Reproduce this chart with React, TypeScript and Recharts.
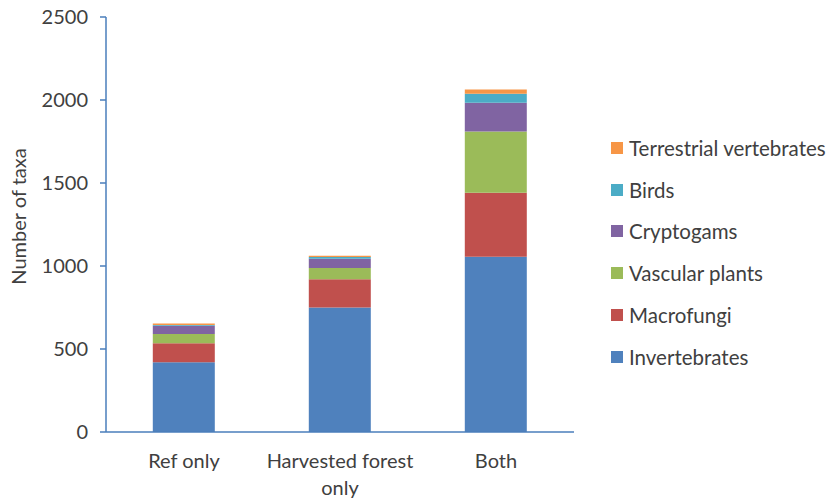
import React from "react";
import { BarChart, Bar, XAxis, YAxis } from "recharts";

const categories = ["Ref only", "Harvested forest only", "Both"];

const invertebrates = [420, 750, 1055];
const macrofungi = [115, 170, 387];
const vascularPlants = [55, 68, 368];
const cryptogams = [50, 56, 173];
const birds = [5, 10, 54];
const terrestrialVertebrates = [8, 8, 26];

const yTicks = [0, 500, 1000, 1500, 2000, 2500];

const series = [
  { key: "invertebrates", name: "Invertebrates", values: invertebrates, color: "#4F81BD" },
  { key: "macrofungi", name: "Macrofungi", values: macrofungi, color: "#C0504D" },
  { key: "vascular", name: "Vascular plants", values: vascularPlants, color: "#9BBB59" },
  { key: "cryptogams", name: "Cryptogams", values: cryptogams, color: "#8064A2" },
  { key: "birds", name: "Birds", values: birds, color: "#4BACC6" },
  { key: "terrestrial", name: "Terrestrial vertebrates", values: terrestrialVertebrates, color: "#F79646" },
];

const data = categories.map((cat, i) => {
  const row: Record<string, string | number> = { cat };
  series.forEach((s) => (row[s.key] = s.values[i]));
  return row;
});

const FONT = "Lato, 'Open Sans', sans-serif";
const TEXT = "#404040";
const AXIS = "#4A7EBB";
const FS = 20;

// wrap words onto lines of at most maxChars characters
function wrap(label: string, maxChars = 16) {
  const lines: string[] = [];
  let cur = "";
  label.split(" ").forEach((w) => {
    const next = cur ? cur + " " + w : w;
    if (next.length > maxChars && cur) {
      lines.push(cur);
      cur = w;
    } else cur = next;
  });
  if (cur) lines.push(cur);
  return lines;
}

function XTick(props: any) {
  const { x, y, payload } = props;
  const lines = wrap(String(payload.value));
  return (
    <text x={x} y={y} textAnchor="middle" fill={TEXT} style={{ fontFamily: FONT, fontSize: FS }}>
      {lines.map((l, i) => (
        <tspan key={i} x={x} dy={i === 0 ? "0.71em" : 27}>
          {l}
        </tspan>
      ))}
    </text>
  );
}

export default function App() {
  return (
    <div style={{ position: "absolute", left: 0, top: 0, width: 833, height: 504, background: "#fff", fontFamily: FONT }}>
      <BarChart
        width={833}
        height={504}
        data={data}
        margin={{ top: 17, right: 259, bottom: 0, left: 0 }}
        barCategoryGap="30%"
      >
        <XAxis
          dataKey="cat"
          axisLine={{ stroke: AXIS, strokeWidth: 1.5 }}
          tickLine={false}
          tick={<XTick />}
          tickMargin={16}
          height={72}
          interval={0}
        />
        <YAxis
          domain={[0, 2500]}
          ticks={yTicks}
          width={106}
          axisLine={{ stroke: AXIS, strokeWidth: 1.5 }}
          tickLine={{ stroke: AXIS, strokeWidth: 1.5 }}
          tickSize={6}
          tickMargin={12}
          tick={{ fill: TEXT, fontSize: FS, fontFamily: FONT }}
          label={{
            value: "Number of taxa",
            angle: -90,
            position: "insideLeft",
            offset: 0,
            dx: 19,
            dy: -8,
            style: { textAnchor: "middle", fill: TEXT, fontSize: FS, fontFamily: FONT },
          }}
        />
        {series.map((s) => (
          <Bar key={s.key} dataKey={s.key} name={s.name} stackId="a" fill={s.color} isAnimationActive={false} />
        ))}
      </BarChart>
      <div style={{ position: "absolute", left: 611, top: 127 }}>
        {[...series].reverse().map((s) => (
          <div key={s.key} style={{ display: "flex", alignItems: "center", height: 41.8 }}>
            <span style={{ width: 12, height: 12, background: s.color, display: "inline-block", marginRight: 6 }} />
            <span style={{ fontSize: 20.5, color: TEXT, fontFamily: FONT, whiteSpace: "nowrap" }}>{s.name}</span>
          </div>
        ))}
      </div>
    </div>
  );
}
